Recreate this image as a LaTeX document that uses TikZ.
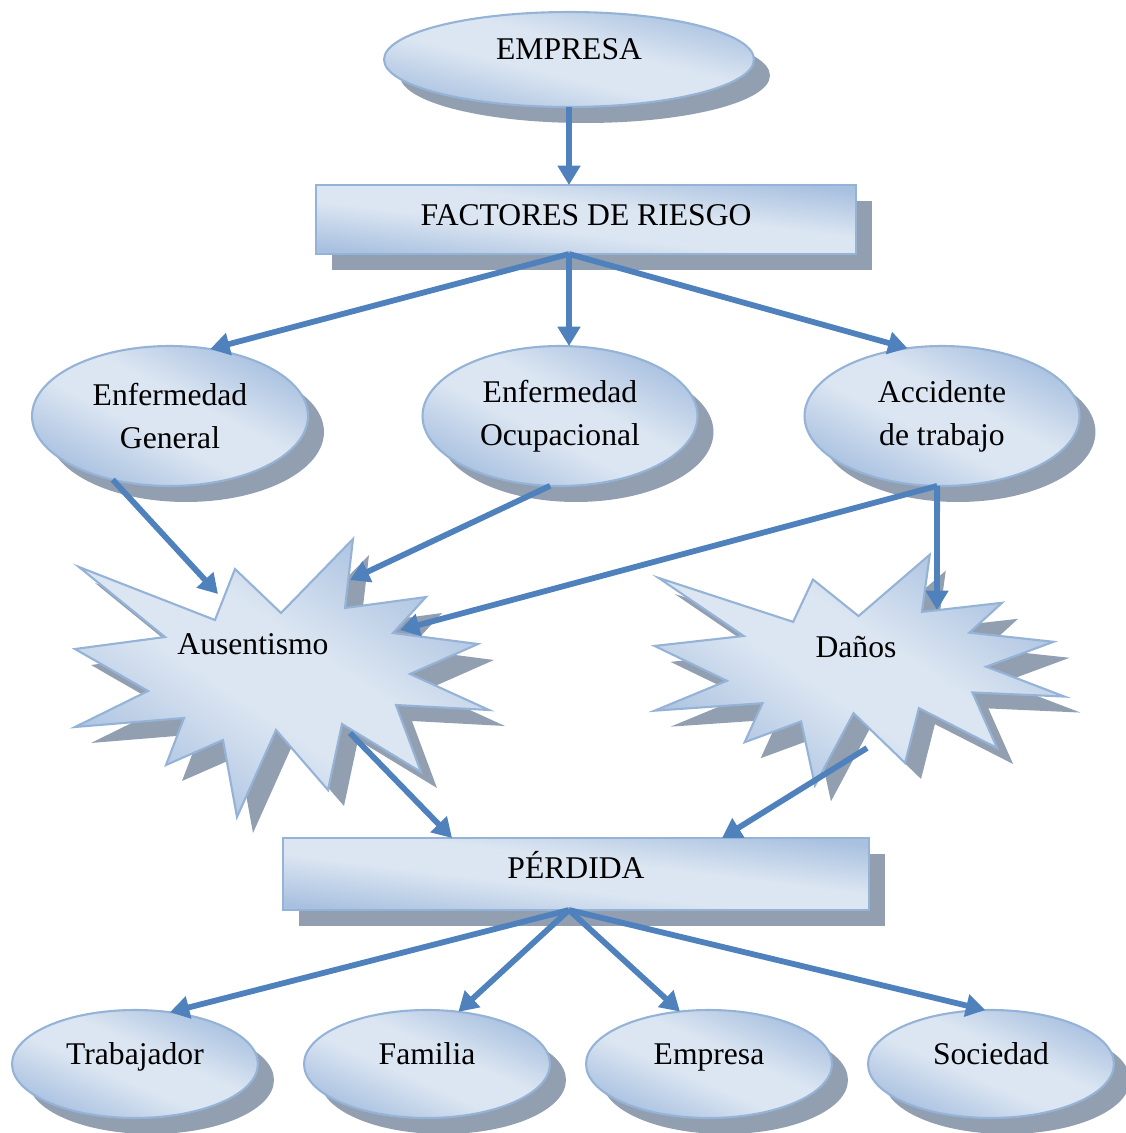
\documentclass[tikz,border=0pt]{standalone}
\usepackage{fontspec}
\setmainfont{Liberation Serif}
\usetikzlibrary{arrows.meta,shapes.geometric,shadows}
\definecolor{fillhi}{HTML}{DCE6F2}
\definecolor{filllo}{HTML}{A9C1E0}
\definecolor{rimblue}{HTML}{95B3D7}
\definecolor{shadowgrey}{HTML}{929FB0}
\definecolor{arrowblue}{HTML}{4F81BD}
\pgfdeclareverticalshading{wordblue}{100bp}{color(0bp)=(filllo); color(25bp)=(filllo); color(44bp)=(fillhi); color(56bp)=(fillhi); color(75bp)=(filllo); color(100bp)=(filllo)}
\tikzset{
	bluefill/.style={shading=wordblue,shading angle=#1,draw=rimblue,line width=1.2pt},
	shadowed/.style={drop shadow={shadow xshift=0.32cm,shadow yshift=-0.32cm,fill=shadowgrey,opacity=1}},
	oval/.style={ellipse,bluefill=#1,shadowed,outer sep=0pt},
	bar/.style={rectangle,bluefill=#1,shadowed,outer sep=0pt},
	lifttext/.style={text height=13pt,text depth=#1},
	arr/.style={draw=arrowblue,line width=3.3pt,-{Triangle[length=11pt,width=12.5pt]}},
	burst/.pic={
		\draw[bluefill=-34,shadowed] (71,-139) -- (63,-70) -- (144,-81) -- (111,-45) -- (196,-34) -- (128,-4)
			-- (207,32) -- (114,27) -- (139,94) -- (60,46) -- (46,112) -- (-6,52) -- (-45,139)
			-- (-59,62) -- (-116,87) -- (-98,40) -- (-207,49) -- (-134,13) -- (-207,-29)
			-- (-117,-41) -- (-203,-111) -- (-67,-58) -- (-47,-109) -- (-1,-65) -- cycle;
	}
}
\begin{document}
\begin{tikzpicture}[x=0.02cm,y=-0.02cm,every node/.style={font=\fontsize{18}{24.4}\selectfont}]
	\useasboundingbox (0,0) rectangle (1126,1133);
	\node[oval=-14,minimum width=7.4cm,minimum height=1.9cm,lifttext=13pt] (empresa) at (569,59.5) {EMPRESA};
	\node[bar=-7,minimum width=10.8cm,minimum height=1.38cm,lifttext=6pt] (factores) at (586,219.5) {FACTORES DE RIESGO};
	\node[oval=-27,minimum width=5.52cm,minimum height=2.8cm,align=center] (enfgen) at (170,416) {Enfermedad\\General};
	\node[oval=-27,minimum width=5.5cm,minimum height=2.8cm,align=center] (enfocu) at (560,416) {Enfermedad\\Ocupacional};
	\node[oval=-27,minimum width=5.5cm,minimum height=2.8cm,align=center] (acc) at (942,416) {Accidente\\de trabajo};
	\pic at (282,678) {burst};
	\pic[xscale=0.99,yscale=0.83] at (859.5,670) {burst};
	\node (aus) at (253,644) {Ausentismo};
	\node (danos) at (856,647) {Daños};
	\node[bar=-7,minimum width=11.72cm,minimum height=1.44cm,lifttext=8pt] (perdida) at (576,874) {PÉRDIDA};
	\node[oval=-24,minimum width=4.92cm,minimum height=2.16cm,lifttext=12.5pt] (trab) at (135,1064) {Trabajador};
	\node[oval=-24,minimum width=4.92cm,minimum height=2.16cm,lifttext=12.5pt] (fam) at (427,1064) {Familia};
	\node[oval=-24,minimum width=4.92cm,minimum height=2.16cm,lifttext=12.5pt] (emp) at (709,1064) {Empresa};
	\node[oval=-24,minimum width=4.92cm,minimum height=2.16cm,lifttext=12.5pt] (soc) at (991,1064) {Sociedad};
	\coordinate (aus-n1) at (218,594);
	\coordinate (aus-n2) at (350,580);
	\coordinate (aus-e) at (400,630);
	\coordinate (aus-s) at (350,733);
	\coordinate (dan-n) at (937,610);
	\coordinate (dan-s) at (867,748);
	\draw[arr] (empresa.south) -- (empresa.south |- factores.north);
	\draw[arr] (factores.south -| empresa) -- (enfgen.59);
	\draw[arr] (factores.south -| empresa) -- (enfocu.north -| empresa);
	\draw[arr] (factores.south -| empresa) -- (acc.117);
	\draw[arr] (enfgen.228) -- (aus-n1);
	\draw[arr] (enfocu.262) -- (aus-n2);
	\draw[arr] (acc.266) -- (aus-e);
	\draw[arr] (acc.266) -- (dan-n);
	\draw[arr] (aus-s) -- ([xshift=-2.48cm]perdida.north);
	\draw[arr] (dan-s) -- ([xshift=2.92cm]perdida.north);
	\draw[arr] (perdida.south -| empresa) -- (trab.56);
	\draw[arr] (perdida.south -| empresa) -- (fam.59);
	\draw[arr] (perdida.south -| empresa) -- (emp.119);
	\draw[arr] (perdida.south -| empresa) -- (soc.96);
\end{tikzpicture}
\end{document}
